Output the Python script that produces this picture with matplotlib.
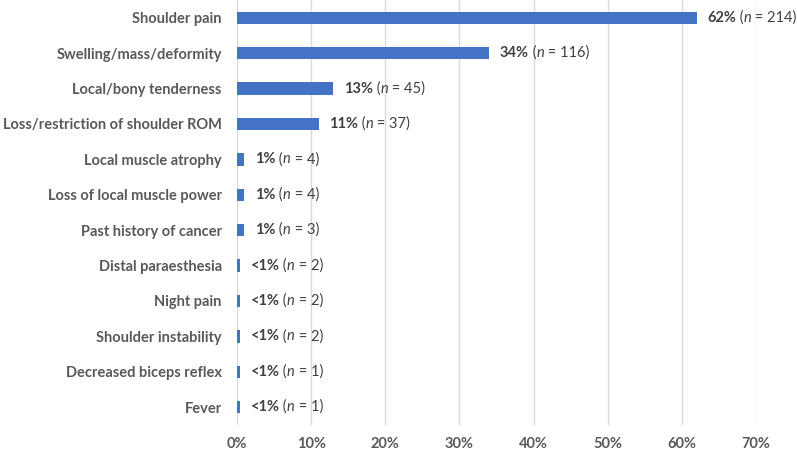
import matplotlib
matplotlib.use("Agg")
import matplotlib.pyplot as plt
import numpy as np

categories = ["Shoulder pain", "Swelling/mass/deformity", "Local/bony tenderness",
              "Loss/restriction of shoulder ROM", "Local muscle atrophy",
              "Loss of local muscle power", "Past history of cancer",
              "Distal paraesthesia", "Night pain", "Shoulder instability",
              "Decreased biceps reflex", "Fever"]
values = [62, 34, 13, 11, 1, 1, 1, 0.4, 0.4, 0.4, 0.4, 0.4]
pct_labels = ["62%", "34%", "13%", "11%", "1%", "1%", "1%", "<1%", "<1%", "<1%", "<1%", "<1%"]
counts = [214, 116, 45, 37, 4, 4, 3, 2, 2, 2, 1, 1]
xticks = [0, 10, 20, 30, 40, 50, 60, 70]

plt.rcParams['font.family'] = ['Lato', 'DejaVu Sans']

fig = plt.figure(figsize=(7.97, 4.53), dpi=100)
ax = fig.add_axes([0.2974, 0.062, 0.6512, 0.938])

y = np.arange(len(categories))
ax.barh(y, values, height=0.35, color="#4472C4", zorder=3)
ax.set_ylim(len(categories) - 0.5, -0.5)
ax.set_xlim(0, 70)
ax.set_xticks(xticks)
ax.set_xticklabels([f"{t}%" for t in xticks])
ax.set_yticks(y)
ax.set_yticklabels(categories)
for s in ax.spines.values():
    s.set_visible(False)
ax.grid(axis='x', color="#D9D9D9", linewidth=1, zorder=0)
ax.tick_params(axis='both', length=0, colors="#595959")
ax.tick_params(axis='y', pad=11, labelsize=10.5)
ax.tick_params(axis='x', pad=9, labelsize=10.5)
for lab in ax.get_yticklabels():
    lab.set_fontweight('bold')
for lab in ax.get_xticklabels():
    lab.set_fontweight('bold')

tc = "#404040"
fs = 10.5
for i, (v, p, n) in enumerate(zip(values, pct_labels, counts)):
    t1 = ax.annotate(p, xy=(v, i), xytext=(7.5, 0), textcoords='offset points',
                     va='center', ha='left', fontsize=fs, fontweight='bold', color=tc)
    t2 = ax.annotate(" (", xy=(1, 0), xycoords=t1, va='bottom', ha='left',
                     fontsize=fs, color=tc)
    t3 = ax.annotate("n", xy=(1, 0), xycoords=t2, va='bottom', ha='left',
                     fontsize=fs, color=tc, fontstyle='italic')
    ax.annotate(f" = {n})", xy=(1, 0), xycoords=t3, va='bottom', ha='left',
                fontsize=fs, color=tc)

fig.savefig("out.png", dpi=100)
